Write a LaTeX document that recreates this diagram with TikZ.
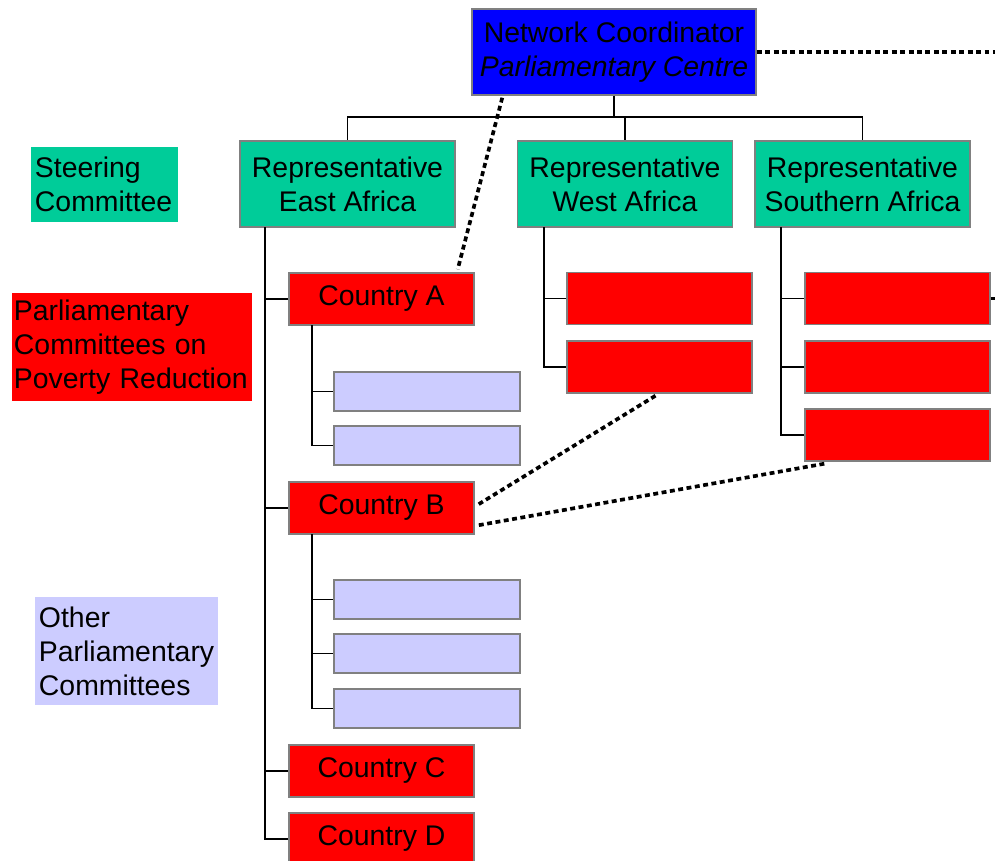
\documentclass[tikz,border=0pt]{standalone}
\usepackage{fontspec}
\setmainfont{Liberation Sans}
\usepackage{tikz}
\usetikzlibrary{calc}

\definecolor{coordblue}{HTML}{0000FF}
\definecolor{repgreen}{HTML}{00CC99}
\definecolor{comred}{HTML}{FF0000}
\definecolor{otherlav}{HTML}{CCCCFF}

\begin{document}
\begin{tikzpicture}[x=0.025cm, y=-0.025cm,
    every node/.style={font=\fontsize{20.2}{24.2}\selectfont, inner sep=0pt},
    box/.style={draw=gray, line width=1pt, align=center},
    coordbox/.style={box, fill=coordblue, minimum width=7.1cm, minimum height=2.15cm},
    repbox/.style={box, fill=repgreen, minimum width=5.375cm, minimum height=2.15cm},
    redbox/.style={box, fill=comred, minimum width=4.625cm, minimum height=1.3cm},
    lavbox/.style={box, fill=otherlav, minimum width=4.65cm, minimum height=0.975cm},
    legend/.style={inner xsep=0.1cm, align=left},
    tree/.style={line width=1.4pt},
    link/.style={line width=2.6pt, dash pattern=on 3.5pt off 2.5pt}]

    \clip (0,0) rectangle (995,861);

    % legend
    \node[legend, fill=repgreen, text width=3.475cm, minimum height=1.875cm] (lsteer) at (104.5,184.5) {Steering\\Committee};
    \node[legend, inner xsep=0.05cm, fill=comred, text width=5.9cm, minimum height=2.7cm] (lparl) at (132,347) {Parliamentary\\Committees on\\Poverty~Reduction};
    \node[legend, fill=otherlav, text width=4.375cm, minimum height=2.7cm] (lother) at (126.5,651) {Other\\Parliamentary\\Committees};

    % coordinator and representatives
    \node[coordbox] (coord) at (614,52) {Network Coordinator\\\textit{Parliamentary Centre}};
    \node[repbox] (east) at (347.5,184) {Representative\\East Africa};
    \node[repbox] (west) at (625,184) {Representative\\West Africa};
    \node[repbox] (south) at (862.5,184) {Representative\\Southern Africa};

    % countries
    \node[redbox] (ca) at (381.5,299) {\raisebox{-2pt}{Country A}};
    \node[redbox] (cb) at (381.5,508) {\raisebox{-2pt}{Country B}};
    \node[redbox] (cc) at (381.5,771) {\raisebox{-2pt}{Country C}};
    \node[redbox] (cd) at (381.5,839) {\raisebox{-2pt}{Country D}};
    \node[redbox] (w1) at (659.5,298.5) {};
    \node[redbox] (w2) at (659.5,367) {};
    \node[redbox] (s1) at (897.5,298.5) {};
    \node[redbox] (s2) at (897.5,367) {};
    \node[redbox] (s3) at (897.5,435) {};

    % other committees
    \node[lavbox] (a1) at (427,391.5) {};
    \node[lavbox] (a2) at (427,445.5) {};
    \node[lavbox] (b1) at (427,599.5) {};
    \node[lavbox] (b2) at (427,653.5) {};
    \node[lavbox] (b3) at (427,708.5) {};

    % tree
    \coordinate (bus) at (614,117);
    \coordinate (et) at (265,227);
    \coordinate (wt) at (544,227);
    \coordinate (st) at (781,227);
    \coordinate (ta) at (312,325);
    \coordinate (tb) at (312,534);

    \draw[tree] (coord.south) -- (bus);
    \draw[tree] (bus) -| (east.north);
    \draw[tree] (bus) -| (west.north);
    \draw[tree] (bus) -| (south.north);
    \foreach \n in {ca,cb,cc,cd}
        \draw[tree] (et) |- (\n.west);
    \foreach \n in {w1,w2}
        \draw[tree] (wt) |- (\n.west);
    \foreach \n in {s1,s2,s3}
        \draw[tree] (st) |- (\n.west);
    \foreach \n in {a1,a2}
        \draw[tree] (ta) |- (\n.west);
    \foreach \n in {b1,b2,b3}
        \draw[tree] (tb) |- (\n.west);

    % dotted links
    \coordinate (coordout) at (1000,52);
    \coordinate (s1out) at (1000,298.5);
    \draw[link] (coord.east) -- (coordout);
    \draw[link] (s1.east) -- (s1out);
    \draw[link] ($(coord.south west)+(31,2)$) -- ($(ca.north east)+(-17,-3)$);
    \draw[link] ($(w2.south)+(-4,2)$) -- ($(cb.east)+(1,-2)$);
    \draw[link] ($(s3.south west)+(20,2)$) -- ($(cb.south east)+(1,-9)$);
\end{tikzpicture}
\end{document}
